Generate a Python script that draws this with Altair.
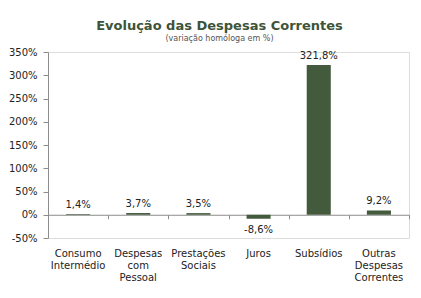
import altair as alt
import pandas as pd

categories = ["Consumo Intermédio", "Despesas com Pessoal", "Prestações Sociais",
              "Juros", "Subsídios", "Outras Despesas Correntes"]
values = [1.4, 3.7, 3.5, -8.6, 321.8, 9.2]
labels = ["1,4%", "3,7%", "3,5%", "-8,6%", "321,8%", "9,2%"]

df = pd.DataFrame({"cat": categories, "val": values, "lab": labels})

GREEN = "#435a3c"
AXIS = "#8c8c8c"
FONT = "DejaVu Sans"

xscale = alt.Scale(domain=categories, paddingInner=0, paddingOuter=0)
yscale = alt.Scale(domain=[-50, 350], nice=False)

bars = alt.Chart(df).mark_bar(color=GREEN, width=alt.RelativeBandSize(0.4)).encode(
    x=alt.X("cat:N", scale=xscale, sort=categories,
            axis=alt.Axis(title=None, labelAngle=0, domain=False, ticks=False,
                          labelExpr="split(datum.label, ' ')", labelFont=FONT,
                          labelFontSize=10, labelColor="#222222", labelPadding=10,
                          labelLineHeight=12)),
    y=alt.Y("val:Q", scale=yscale,
            axis=alt.Axis(title=None, values=list(range(-50, 351, 50)), grid=False,
                          labelExpr="datum.value + '%'", labelFont=FONT,
                          labelFontSize=10, labelColor="#222222", domainColor=AXIS,
                          tickColor=AXIS, tickSize=5, labelPadding=6,
                          labelOverlap=False, labelFlush=False)),
)

zero_axis = alt.Chart(df).mark_text(opacity=0).encode(
    x=alt.X("cat:N", scale=xscale, sort=categories,
            axis=alt.Axis(title=None, labels=False, orient="bottom", offset=-23.25,
                          domainColor=AXIS, tickColor=AXIS, tickSize=4,
                          tickBand="extent")),
    y=alt.Y("val:Q", scale=yscale, axis=None),
)

pos = df[df["val"] >= 0]
neg = df[df["val"] < 0]

text_pos = alt.Chart(pos).mark_text(font=FONT, fontSize=10, color="#222222",
                                    baseline="bottom", dy=-4).encode(
    x=alt.X("cat:N", scale=xscale, sort=categories, axis=None),
    y=alt.Y("val:Q", scale=yscale, axis=None),
    text="lab:N",
)
text_neg = alt.Chart(neg).mark_text(font=FONT, fontSize=10, color="#222222",
                                    baseline="top", dy=6).encode(
    x=alt.X("cat:N", scale=xscale, sort=categories, axis=None),
    y=alt.Y("val:Q", scale=yscale, axis=None),
    text="lab:N",
)

chart = alt.layer(bars, zero_axis, text_pos, text_neg).resolve_axis(
    x="independent", y="independent"
).properties(
    width=361,
    height=186,
    padding={"left": 0, "top": 12, "right": 0, "bottom": 0},
    title=alt.TitleParams(
        text="Evolução das Despesas Correntes",
        subtitle="(variação homóloga em %)",
        font=FONT, fontSize=13, fontWeight="bold", color="#3d5438",
        subtitleFont=FONT, subtitleFontSize=8, subtitleColor="#555555",
        subtitlePadding=2, anchor="middle", dx=-9, offset=4,
    ),
).configure_view(stroke="transparent", strokeWidth=0).configure(background="white")

chart.save("out.html", embed_options={"renderer": "svg", "actions": False})
